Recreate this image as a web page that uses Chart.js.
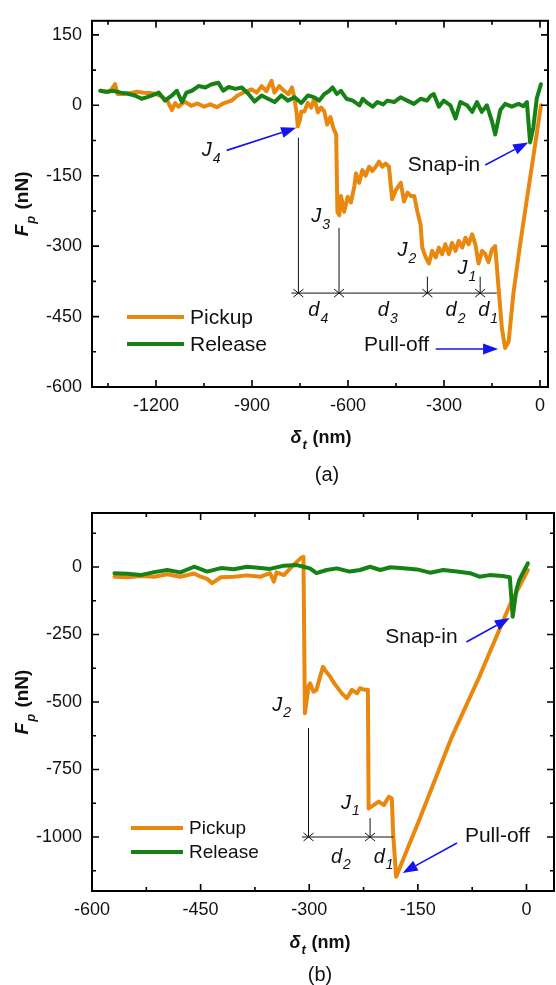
<!DOCTYPE html>
<html>
<head>
<meta charset="utf-8">
<script src="https://cdn.jsdelivr.net/npm/chart.js@4.4.0/dist/chart.umd.min.js"></script>
<style>
  html, body { margin: 0; padding: 0; background: #fff; }
  .panel { position: absolute; left: 0; width: 556px; }
</style>
</head>
<body>
<div class="panel" style="top:0;height:490px"><canvas id="chartA"></canvas></div>
<div class="panel" style="top:490px;height:495px"><canvas id="chartB"></canvas></div>
<script>
// ---- panel (a) data ----
const pickupA_x = [-1374,-1350,-1340,-1328,-1320,-1300,-1280,-1260,-1240,-1220,-1200,-1180,-1165,-1150,-1140,-1130,-1110,-1090,-1070,-1050,-1030,-1010,-990,-964,-945,-925,-901,-885,-870,-855,-839,-830,-815,-800,-786,-775,-767,-760,-757,-750,-746,-736,-726,-715,-705,-694,-684,-674,-665,-655,-645,-637,-633,-627,-622,-612,-601,-591,-580,-575,-565,-555,-545,-534,-524,-513,-503,-493,-483,-472,-462,-450,-435,-425,-414,-404,-393,-383,-373,-368,-357,-347,-337,-326,-316,-306,-296,-285,-275,-264,-254,-243,-233,-223,-212,-202,-192,-181,-171,-161,-150,-140,-129,-119,-109,-98,-83,-62,-41,-21,-10,3];
const pickupA_y = [31,28,33,45,24,24,26,29,27,26,24,18,10,-10,5,-3,8,-1,4,-3,2,-4,4,10,21,28,34,27,41,30,52,27,41,31,24,38,14,-20,-45,-30,-13,-13,5,-5,15,-15,-5,-13,-41,-25,-50,-62,-227,-234,-193,-227,-195,-207,-172,-145,-165,-138,-150,-131,-140,-131,-120,-131,-124,-131,-200,-180,-165,-205,-186,-193,-193,-227,-255,-303,-324,-337,-310,-324,-303,-317,-296,-317,-293,-310,-289,-303,-282,-296,-275,-296,-337,-310,-317,-334,-307,-300,-393,-475,-517,-503,-400,-296,-200,-110,-60,0];
const releaseA_x = [-1374,-1355,-1335,-1310,-1290,-1266,-1245,-1230,-1212,-1191,-1172,-1150,-1135,-1119,-1105,-1088,-1067,-1046,-1026,-1005,-990,-973,-952,-932,-911,-892,-870,-850,-829,-808,-788,-767,-746,-725,-705,-690,-674,-660,-648,-635,-622,-605,-585,-564,-554,-543,-523,-508,-490,-477,-456,-436,-415,-394,-373,-353,-342,-332,-316,-301,-280,-264,-249,-228,-212,-197,-182,-166,-150,-140,-124,-109,-88,-67,-52,-41,-31,-21,-10,3];
const releaseA_y = [31,29,31,27,25,21,14,17,21,27,10,21,31,7,27,31,41,38,45,48,31,39,35,38,24,8,21,14,7,21,10,17,5,21,17,10,24,30,38,24,31,14,10,0,14,7,-3,7,2,10,7,17,10,3,14,10,20,24,-3,10,0,-28,7,0,-14,7,-14,0,-34,-62,-10,3,-3,3,-2,7,-79,-48,15,45];

// ---- panel (b) data ----
const pickupB_x = [-569,-551,-533,-514,-496,-478,-459,-450,-441,-434,-422,-404,-386,-367,-354,-349,-345,-335,-322,-312,-308,-306,-301,-299,-294,-290,-285,-281,-276,-271,-267,-262,-255,-248,-241,-234,-230,-223,-219,-218,-211,-204,-197,-190,-186,-184,-180,-147,-104,-65,-23,2];
const pickupB_y = [-36,-38,-33,-36,-27,-36,-24,-36,-44,-60,-38,-36,-31,-36,-23,-54,-20,-30,7,32,38,-542,-443,-431,-462,-455,-406,-370,-390,-406,-425,-443,-468,-486,-455,-468,-449,-455,-455,-894,-882,-869,-882,-851,-857,-993,-1147,-930,-635,-406,-141,-11];
const releaseB_x = [-569,-551,-533,-514,-496,-478,-459,-441,-422,-404,-386,-367,-354,-335,-317,-308,-299,-290,-276,-262,-244,-230,-216,-202,-188,-170,-151,-133,-115,-96,-78,-65,-51,-33,-23,-19,-14,-10,2];
const releaseB_y = [-23,-25,-30,-19,-11,-20,1,-17,-4,-8,1,-4,-7,5,7,1,-5,-23,-11,-5,-17,-11,1,-11,-1,-5,-9,-21,-11,-17,-23,-36,-30,-33,-38,-184,-85,-48,14];

// ---- axis ticks ----
const xMajorA = [-1200, -900, -600, -300, 0];
const xMinorA = [-1350, -1050, -750, -450, -150];
const yMajorA = [-600, -450, -300, -150, 0, 150];
const yMinorA = [-525, -375, -225, -75, 75];
const xMajorB = [-600, -450, -300, -150, 0];
const xMinorB = [-525, -375, -225, -75];
const yMajorB = [-1000, -750, -500, -250, 0];
const yMinorB = [-1125, -875, -625, -375, -125, 125];

const seriesNames = ['Pickup', 'Release'];
const ORANGE = '#E8880F';
const GREEN = '#168216';
const BLUE = '#1414F0';
const FONT = '"Liberation Sans", Arial, Helvetica, sans-serif';

function pts(xs, ys) { return xs.map((x, i) => ({ x: x, y: ys[i] })); }

// draw main text with a subscript; x = left edge, y = middle
function subText(ctx, x, y, main, sub, size, style) {
  ctx.textBaseline = 'middle';
  ctx.textAlign = 'left';
  ctx.font = style + ' ' + size + 'px ' + FONT;
  const w = ctx.measureText(main).width;
  ctx.fillText(main, x, y);
  ctx.font = style + ' ' + Math.round(size * 0.7) + 'px ' + FONT;
  ctx.fillText(sub, x + w + 1, y + size * 0.42);
}

function arrow(ctx, x1, y1, x2, y2) {
  const a = Math.atan2(y2 - y1, x2 - x1), L = 15, W = 5.5;
  const bx = x2 - L * Math.cos(a), by = y2 - L * Math.sin(a);
  ctx.strokeStyle = BLUE; ctx.fillStyle = BLUE; ctx.lineWidth = 1.6;
  ctx.beginPath(); ctx.moveTo(x1, y1); ctx.lineTo(bx, by); ctx.stroke();
  ctx.beginPath();
  ctx.moveTo(x2, y2);
  ctx.lineTo(bx - W * Math.sin(a), by + W * Math.cos(a));
  ctx.lineTo(bx + W * Math.sin(a), by - W * Math.cos(a));
  ctx.closePath(); ctx.fill();
}

function makeOverlay(P) {
  return {
    id: 'overlay',
    afterDraw(chart) {
      const ctx = chart.ctx, ca = chart.chartArea;
      const X = v => chart.scales.x.getPixelForValue(v);
      const Y = v => chart.scales.y.getPixelForValue(v);
      ctx.save();
      // frame and inward ticks
      ctx.strokeStyle = '#000'; ctx.lineWidth = 2;
      ctx.strokeRect(ca.left, ca.top, ca.right - ca.left, ca.bottom - ca.top);
      ctx.lineWidth = 1.6;
      const tk = (list, len) => {
        list.x.forEach(v => {
          const p = X(v);
          ctx.beginPath(); ctx.moveTo(p, ca.bottom); ctx.lineTo(p, ca.bottom - len);
          ctx.moveTo(p, ca.top); ctx.lineTo(p, ca.top + len); ctx.stroke();
        });
        list.y.forEach(v => {
          const p = Y(v);
          ctx.beginPath(); ctx.moveTo(ca.left, p); ctx.lineTo(ca.left + len, p);
          ctx.moveTo(ca.right, p); ctx.lineTo(ca.right - len, p); ctx.stroke();
        });
      };
      tk({ x: P.xMajor, y: P.yMajor }, 7);
      tk({ x: P.xMinor, y: P.yMinor }, 4);

      // axis titles
      ctx.fillStyle = '#111';
      const cy = (ca.top + ca.bottom) / 2;
      ctx.save();
      ctx.translate(P.yTitleX, cy);
      ctx.rotate(-Math.PI / 2);
      ctx.font = 'italic bold 19px ' + FONT;
      const wF = ctx.measureText('F').width;
      ctx.font = 'italic bold 13px ' + FONT;
      const wp = ctx.measureText('p').width;
      ctx.font = 'bold 19px ' + FONT;
      const wn = ctx.measureText(' (nN)').width;
      const x0 = -(wF + wp + 2 + wn) / 2;
      subText(ctx, x0, 0, 'F', 'p', 19, 'italic bold');
      ctx.font = 'bold 19px ' + FONT;
      ctx.fillText(' (nN)', x0 + wF + wp + 2, 0);
      ctx.restore();

      ctx.font = 'bold 18px ' + FONT;
      const wm = ctx.measureText(' (nm)').width;
      ctx.font = 'italic bold 18px ' + FONT;
      const wd = ctx.measureText('\u03b4').width;
      ctx.font = 'italic bold 12px ' + FONT;
      const wt = ctx.measureText('t').width;
      const tx = P.xTitleCx - (wd + wt + 2 + wm) / 2;
      subText(ctx, tx, P.xTitleY, '\u03b4', 't', 18, 'italic bold');
      ctx.font = 'bold 18px ' + FONT;
      ctx.fillText(' (nm)', tx + wd + wt + 2, P.xTitleY);

      ctx.font = '20px ' + FONT;
      ctx.textAlign = 'center';
      ctx.fillText(P.tag, P.tagX, P.tagY);

      // legend
      chart.data.datasets.forEach((ds, i) => {
        const ly = ca.bottom - P.legend.dy[i];
        ctx.strokeStyle = ds.borderColor; ctx.lineWidth = 4;
        ctx.beginPath();
        ctx.moveTo(ca.left + P.legend.x0, ly); ctx.lineTo(ca.left + P.legend.x1, ly); ctx.stroke();
        ctx.fillStyle = '#111';
        ctx.font = P.legend.size + 'px ' + FONT;
        ctx.textAlign = 'left'; ctx.textBaseline = 'middle';
        ctx.fillText(ds.label, ca.left + P.legend.x1 + 6, ly + 1);
      });

      // dimension lines
      ctx.strokeStyle = '#111'; ctx.lineWidth = 1;
      P.vlines.forEach(l => {
        ctx.beginPath(); ctx.moveTo(X(l[0]), Y(l[1])); ctx.lineTo(X(l[0]), Y(l[2])); ctx.stroke();
      });
      const hy = Y(P.hline[2]);
      ctx.beginPath(); ctx.moveTo(X(P.hline[0]), hy); ctx.lineTo(X(P.hline[1]), hy); ctx.stroke();
      P.vlines.forEach(l => {
        const x = X(l[0]);
        ctx.beginPath();
        ctx.moveTo(x - 5, hy - 4); ctx.lineTo(x, hy); ctx.lineTo(x - 5, hy + 4);
        ctx.moveTo(x + 5, hy - 4); ctx.lineTo(x, hy); ctx.lineTo(x + 5, hy + 4);
        ctx.stroke();
      });

      // labels
      ctx.fillStyle = '#111';
      P.subLabels.forEach(s => subText(ctx, X(s[0]), Y(s[1]), s[2], s[3], 20, 'italic'));
      ctx.font = '21px ' + FONT;
      ctx.textAlign = 'left'; ctx.textBaseline = 'middle';
      P.texts.forEach(t => ctx.fillText(t[2], X(t[0]), Y(t[1])));
      P.arrows.forEach(a => arrow(ctx, X(a[0]), Y(a[1]), X(a[2]), Y(a[3])));
      ctx.restore();
    }
  };
}

function makeChart(id, P) {
  const tickFont = { family: FONT, size: 18 };
  return new Chart(document.getElementById(id), {
    type: 'line',
    data: {
      datasets: [
        { label: seriesNames[0], data: P.pickup, borderColor: ORANGE, borderWidth: 4, order: 1 },
        { label: seriesNames[1], data: P.release, borderColor: GREEN, borderWidth: 4, order: 0 }
      ]
    },
    options: {
      responsive: true,
      maintainAspectRatio: false,
      animation: false,
      parsing: false,
      elements: { point: { radius: 0 }, line: { tension: 0, borderJoinStyle: 'round', borderCapStyle: 'round' } },
      layout: { padding: { left: 0, right: P.padRight, top: P.padTop, bottom: 0 } },
      plugins: { legend: { display: false }, tooltip: { enabled: false } },
      scales: {
        x: {
          type: 'linear', min: P.xMin, max: P.xMax,
          afterBuildTicks: s => { s.ticks = P.xMajor.map(v => ({ value: v })); },
          afterFit: s => { s.height = P.xAxisH; },
          ticks: { font: tickFont, color: '#111', padding: 8, maxRotation: 0, autoSkip: false, callback: v => String(v) },
          grid: { display: false, drawTicks: false },
          border: { display: false }
        },
        y: {
          type: 'linear', min: P.yMin, max: P.yMax,
          afterBuildTicks: s => { s.ticks = P.yMajor.map(v => ({ value: v })); },
          afterFit: s => { s.width = 92; },
          ticks: { font: tickFont, color: '#111', padding: 10, autoSkip: false, callback: v => String(v) },
          grid: { display: false, drawTicks: false },
          border: { display: false }
        }
      }
    },
    plugins: [makeOverlay(P)]
  });
}

makeChart('chartA', {
  pickup: pts(pickupA_x, pickupA_y), release: pts(releaseA_x, releaseA_y),
  xMin: -1400, xMax: 25, yMin: -600, yMax: 180,
  xMajor: xMajorA, xMinor: xMinorA, yMajor: yMajorA, yMinor: yMinorA,
  padTop: 10, padRight: 8, xAxisH: 103,
  yTitleX: 23, xTitleCx: 321, xTitleY: 438, tag: '(a)', tagX: 327, tagY: 475,
  legend: { x0: 35, x1: 92, dy: [70, 43], size: 21 },
  vlines: [[-755, -69, -400], [-628, -261, -400], [-352, -365, -400], [-187, -365, -400]],
  hline: [-777, -135, -400],
  subLabels: [[-1057, -96, 'J', '4'], [-715, -237, 'J', '3'], [-445, -310, 'J', '2'], [-258, -348, 'J', '1'],
              [-724, -437, 'd', '4'], [-507, -437, 'd', '3'], [-295, -437, 'd', '2'], [-193, -437, 'd', '1']],
  texts: [[-413, -127, 'Snap-in'], [-550, -511, 'Pull-off']],
  arrows: [[-979, -96, -762, -48], [-171, -127, -37, -79], [-326, -519, -131, -519]]
});

makeChart('chartB', {
  pickup: pts(pickupB_x, pickupB_y), release: pts(releaseB_x, releaseB_y),
  xMin: -600, xMax: 38, yMin: -1200, yMax: 200,
  xMajor: xMajorB, xMinor: xMinorB, yMajor: yMajorB, yMinor: yMinorB,
  padTop: 23, padRight: 2, xAxisH: 94,
  yTitleX: 23, xTitleCx: 320, xTitleY: 453, tag: '(b)', tagX: 320, tagY: 485,
  legend: { x0: 39, x1: 91, dy: [63, 39], size: 19 },
  vlines: [[-301, -596, -1000], [-216, -930, -1000]],
  hline: [-310, -184, -1000],
  subLabels: [[-351, -511, 'J', '2'], [-256, -874, 'J', '1'], [-270, -1074, 'd', '2'], [-211, -1074, 'd', '1']],
  texts: [[-195, -259, 'Snap-in'], [-85, -996, 'Pull-off']],
  arrows: [[-83, -278, -23, -189], [-96, -1022, -171, -1133]]
});
</script>
</body>
</html>
